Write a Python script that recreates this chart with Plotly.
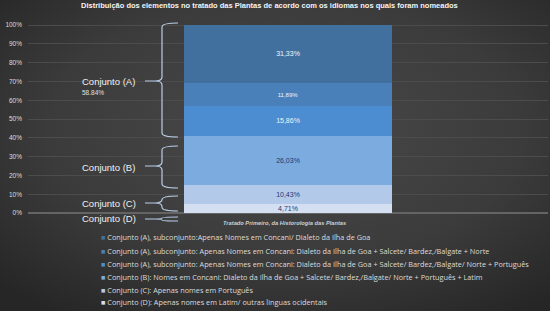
import base64
import plotly.graph_objects as go

# ---------------- data ----------------
series_names = [
    "Conjunto (A), subconjunto:Apenas Nomes em Concani/ Dialeto da Ilha de Goa",
    "Conjunto (A), subconjunto: Apenas Nomes em Concani: Dialeto da Ilha de Goa + Salcete/ Bardez,/Balgate + Norte",
    "Conjunto (A), subconjunto: Apenas Nomes em Concani: Dialeto da Ilha de Goa + Salcete/ Bardez,/Balgate/ Norte + Português",
    "Conjunto (B): Nomes em Concani: Dialeto da Ilha de Goa + Salcete/ Bardez,/Balgate/ Norte + Português + Latim",
    "Conjunto (C): Apenas nomes em Português",
    "Conjunto (D): Apenas nomes em Latim/ outras linguas ocidentais",
]
series_values = [31.33, 11.89, 15.86, 26.03, 10.43, 4.71]
category = ["Tratado Primeiro, da Historologia das Plantas"]
group_labels = ["Conjunto (A)", "Conjunto (B)", "Conjunto (C)", "Conjunto (D)"]
group_a_total = "58.84%"
title_text = "Distribuição dos elementos no tratado das Plantas de acordo com os idiomas nos quais foram nomeados"

# ---------------- style ----------------
colors = ["#41709f", "#4a80ba", "#4b8dd0", "#7babdf", "#b3c9e9", "#d4e0f1"]
text_colors = ["#f2f5fa", "#eef3fa", "#eef3fa", "#1e3a72", "#1e3a72", "#1e3a72"]
text_sizes = [7, 6, 7, 7, 7, 7]

W, H = 550, 311
L, R, T, B = 28, 2, 22, 88
PW, PH = W - L - R, H - T - B
YMIN, YMAX = -5.3, 101.6

def px_x(px):
    return (px - L) / PW

def py_y(py):
    return (H - B - py) / PH

fig = go.Figure()
for name, val, col, tc, ts in reversed(list(zip(series_names, series_values, colors, text_colors, text_sizes))):
    fig.add_trace(go.Bar(
        x=category, y=[val], name=name,
        marker=dict(color=col, line=dict(width=0)),
        width=0.4,
        text=[f"{val:.2f}".replace(".", ",") + "%"],
        textposition="inside", insidetextanchor="middle", constraintext="none",
        textfont=dict(color=tc, size=ts, family="Liberation Sans"),
        showlegend=False,
    ))

# background gradient
svg = (
    f"<svg xmlns='http://www.w3.org/2000/svg' width='{W}' height='{H}'>"
    "<defs><radialGradient id='g' cx='0.52' cy='0.42' r='0.72'>"
    "<stop offset='0' stop-color='#4a4a4a'/><stop offset='0.6' stop-color='#3b3b3b'/>"
    "<stop offset='1' stop-color='#262626'/></radialGradient></defs>"
    f"<rect width='{W}' height='{H}' fill='url(#g)'/></svg>"
)
src = "data:image/svg+xml;base64," + base64.b64encode(svg.encode()).decode()

# braces (pixel positions in y)
braces = [  # (top_px, bottom_px, mid_px)
    (23, 137, 81),
    (146, 188, 166),
    (196, 211, 203),
    (217, 221, 219),
]
shapes = []
xv, xr, xt, xc = 162, 178, 155, 145
for (yt, yb, ym) in braces:
    r = min(4, (yb - yt) / 4)
    pts = [
        ("M", [(xr, yt)]),
        ("Q", [(xv, yt), (xv, yt + r)]),
        ("L", [(xv, ym - r)]),
        ("Q", [(xv, ym), (xt, ym)]),
        ("Q", [(xv, ym), (xv, ym + r)]),
        ("L", [(xv, yb - r)]),
        ("Q", [(xv, yb), (xr, yb)]),
        ("M", [(xt, ym)]),
        ("L", [(xc, ym)]),
    ]
    path = " ".join(
        cmd + " " + " ".join(f"{px_x(a):.5f},{py_y(b):.5f}" for a, b in p) for cmd, p in pts
    )
    shapes.append(dict(type="path", path=path, xref="paper", yref="paper",
                       line=dict(color="#b9cde9", width=1.2)))

annotations = []
label_y = [81, 167, 203, 218]
for lab, yy in zip(group_labels, label_y):
    annotations.append(dict(text=lab, x=px_x(80), y=py_y(yy), xref="paper", yref="paper",
                            xanchor="left", yanchor="middle", showarrow=False,
                            font=dict(size=9.5, color="#f0f0f0", family="Liberation Sans")))
annotations.append(dict(text=group_a_total, x=px_x(80), y=py_y(92), xref="paper", yref="paper",
                        xanchor="left", yanchor="middle", showarrow=False,
                        font=dict(size=6.5, color="#e0e0e0", family="Liberation Sans")))
annotations.append(dict(text="<b><i>" + category[0] + "</i></b>", x=px_x(284), y=py_y(223),
                        xref="paper", yref="paper", xanchor="center", yanchor="middle",
                        showarrow=False, font=dict(size=5.7, color="#cfcfcf", family="Liberation Sans")))
legend_y = [237, 251, 264, 277, 289.5, 302]
for name, col, yy in zip(series_names, colors, legend_y):
    annotations.append(dict(
        text=f"<span style='color:{col}'>■</span> {name}",
        x=px_x(99), y=py_y(yy), xref="paper", yref="paper",
        xanchor="left", yanchor="middle", showarrow=False,
        font=dict(size=7.3, color="#dcdcdc", family="Open Sans")))
annotations.append(dict(text="<b>" + title_text + "</b>", x=px_x(269), y=py_y(6),
                        xref="paper", yref="paper", xanchor="center", yanchor="middle",
                        showarrow=False, font=dict(size=7.5, color="#f4f4f4", family="Liberation Sans")))

fig.update_layout(
    width=W, height=H,
    margin=dict(l=L, r=R, t=T, b=B, pad=0),
    paper_bgcolor="#383838", plot_bgcolor="rgba(0,0,0,0)",
    barmode="stack", bargap=0.6,
    showlegend=False,
    images=[dict(source=src, xref="paper", yref="paper", x=-L / PW, y=1 + T / PH,
                 sizex=W / PW, sizey=H / PH, xanchor="left", yanchor="top",
                 sizing="stretch", layer="below")],
    shapes=shapes,
    annotations=annotations,
    xaxis=dict(showticklabels=False, showgrid=False, zeroline=False, showline=False,
               range=[-0.5, 0.5], fixedrange=True),
    yaxis=dict(range=[YMIN, YMAX], tick0=0, dtick=10, ticksuffix="%",
               showgrid=True, gridcolor="#4c4c4c", gridwidth=1,
               zeroline=True, zerolinecolor="#646464", zerolinewidth=2,
               showline=False, ticklabelstandoff=5,
               tickfont=dict(size=6.5, color="#dddddd", family="Liberation Sans")),
)

fig.write_html(
    "out.html",
    config={"displayModeBar": False},
    post_script="document.body.style.margin='0';document.body.style.overflow='hidden';",
)
